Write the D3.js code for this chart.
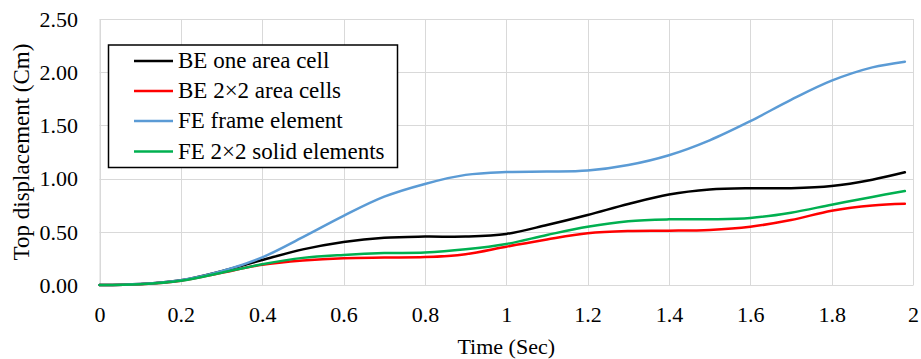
<!DOCTYPE html>
<html>
<head>
<meta charset="utf-8">
<script src="https://cdn.jsdelivr.net/npm/d3@7"></script>
<style>
  html, body { margin: 0; padding: 0; background: #fff; }
  svg { display: block; }
</style>
</head>
<body>
<svg id="chart" width="921" height="359"></svg>
<script>
const time = [0, 0.1, 0.2, 0.3, 0.4, 0.5, 0.6, 0.7, 0.8, 0.9, 1.0, 1.1, 1.2, 1.3, 1.4, 1.5, 1.6, 1.7, 1.8, 1.9, 1.98];
const beOneCell   = [0, 0.01, 0.045, 0.13, 0.235, 0.335, 0.405, 0.445, 0.455, 0.455, 0.48, 0.564, 0.658, 0.761, 0.85, 0.897, 0.91, 0.91, 0.93, 0.99, 1.059];
const be2x2Cells  = [0, 0.008, 0.04, 0.115, 0.19, 0.23, 0.252, 0.258, 0.262, 0.29, 0.36, 0.428, 0.486, 0.507, 0.51, 0.518, 0.548, 0.61, 0.698, 0.748, 0.764];
const feFrame     = [0, 0.01, 0.045, 0.13, 0.26, 0.45, 0.65, 0.83, 0.95, 1.035, 1.062, 1.066, 1.076, 1.128, 1.22, 1.36, 1.54, 1.74, 1.92, 2.045, 2.099];
const fe2x2Solid  = [0, 0.008, 0.04, 0.115, 0.195, 0.255, 0.283, 0.30, 0.305, 0.335, 0.385, 0.47, 0.548, 0.60, 0.617, 0.618, 0.63, 0.68, 0.755, 0.828, 0.883];

const seriesNames = ["BE one area cell", "BE 2\u00d72 area cells", "FE frame element", "FE 2\u00d72 solid elements"];
const seriesColors = ["#000000", "#ff0000", "#5b9bd5", "#00b050"];
const seriesValues = [beOneCell, be2x2Cells, feFrame, fe2x2Solid];

const xTicks = [0, 0.2, 0.4, 0.6, 0.8, 1, 1.2, 1.4, 1.6, 1.8, 2];
const yTicks = [0, 0.5, 1.0, 1.5, 2.0, 2.5];

const FONT = "'Liberation Serif', 'Times New Roman', serif";
const svg = d3.select("#chart");
const pLeft = 99.5, pRight = 913, pTop = 19, pBottom = 285;

const x = d3.scaleLinear().domain([0, 2]).range([pLeft, pRight]);
const y = d3.scaleLinear().domain([0, 2.5]).range([pBottom, pTop]);

// gridlines
const grid = svg.append("g");
grid.selectAll("line.v").data(xTicks).join("line")
  .attr("x1", d => Math.round(x(d)) + 0.5).attr("x2", d => Math.round(x(d)) + 0.5)
  .attr("y1", pTop).attr("y2", pBottom)
  .attr("stroke", "#d9d9d9").attr("stroke-width", 1);
grid.selectAll("line.h").data(yTicks).join("line")
  .attr("y1", d => Math.round(y(d)) + 0.5).attr("y2", d => Math.round(y(d)) + 0.5)
  .attr("x1", pLeft).attr("x2", pRight)
  .attr("stroke", "#d9d9d9").attr("stroke-width", 1);

// axes (labels only)
const xAxis = d3.axisBottom(x).tickValues(xTicks).tickSize(0).tickPadding(0)
  .tickFormat(d => String(+d.toFixed(1)));
const gx = svg.append("g").attr("transform", `translate(0,${pBottom})`).call(xAxis)
  .attr("font-family", FONT).attr("font-size", 22);
gx.select(".domain").attr("stroke", "#d9d9d9");
gx.selectAll("text").attr("dy", null).attr("y", 37).attr("fill", "#000");

const yAxis = d3.axisLeft(y).tickValues(yTicks).tickSize(0).tickPadding(0)
  .tickFormat(d3.format(".2f"));
const gy = svg.append("g").attr("transform", `translate(${pLeft},0)`).call(yAxis)
  .attr("font-family", FONT).attr("font-size", 22);
gy.select(".domain").attr("stroke", "#d9d9d9");
gy.selectAll("text").attr("x", -21.5).attr("dy", "0.33em").attr("fill", "#000");

// series
const line = d3.line().x(d => x(d[0])).y(d => y(d[1])).curve(d3.curveCatmullRom.alpha(0.5));
seriesValues.forEach((vals, i) => {
  const pts = time.map((t, j) => [t, vals[j]]);
  svg.append("path").datum(pts)
    .attr("d", line)
    .attr("fill", "none")
    .attr("stroke", seriesColors[i])
    .attr("stroke-width", 2.5)
    .attr("stroke-linecap", "round");
});

// axis titles
svg.append("text").attr("x", (pLeft + pRight) / 2).attr("y", 354)
  .attr("font-family", FONT).attr("font-size", 22)
  .attr("text-anchor", "middle").text("Time (Sec)");
svg.append("text").attr("transform", `translate(29,${(pTop + pBottom) / 2}) rotate(-90)`)
  .attr("font-family", FONT).attr("font-size", 23)
  .attr("text-anchor", "middle").text("Top displacement (Cm)");

// legend
const lg = svg.append("g");
lg.append("rect").attr("x", 108.5).attr("y", 45).attr("width", 289).attr("height", 122.5)
  .attr("fill", "#fff").attr("stroke", "#000").attr("stroke-width", 1.5);
const rowY = [61, 91, 121, 151.5];
seriesNames.forEach((name, i) => {
  lg.append("line").attr("x1", 134).attr("x2", 173).attr("y1", rowY[i]).attr("y2", rowY[i])
    .attr("stroke", seriesColors[i]).attr("stroke-width", 2.5);
  lg.append("text").attr("x", 178).attr("y", rowY[i] + 7)
    .attr("font-family", FONT).attr("font-size", 23).text(name);
});
</script>
</body>
</html>
